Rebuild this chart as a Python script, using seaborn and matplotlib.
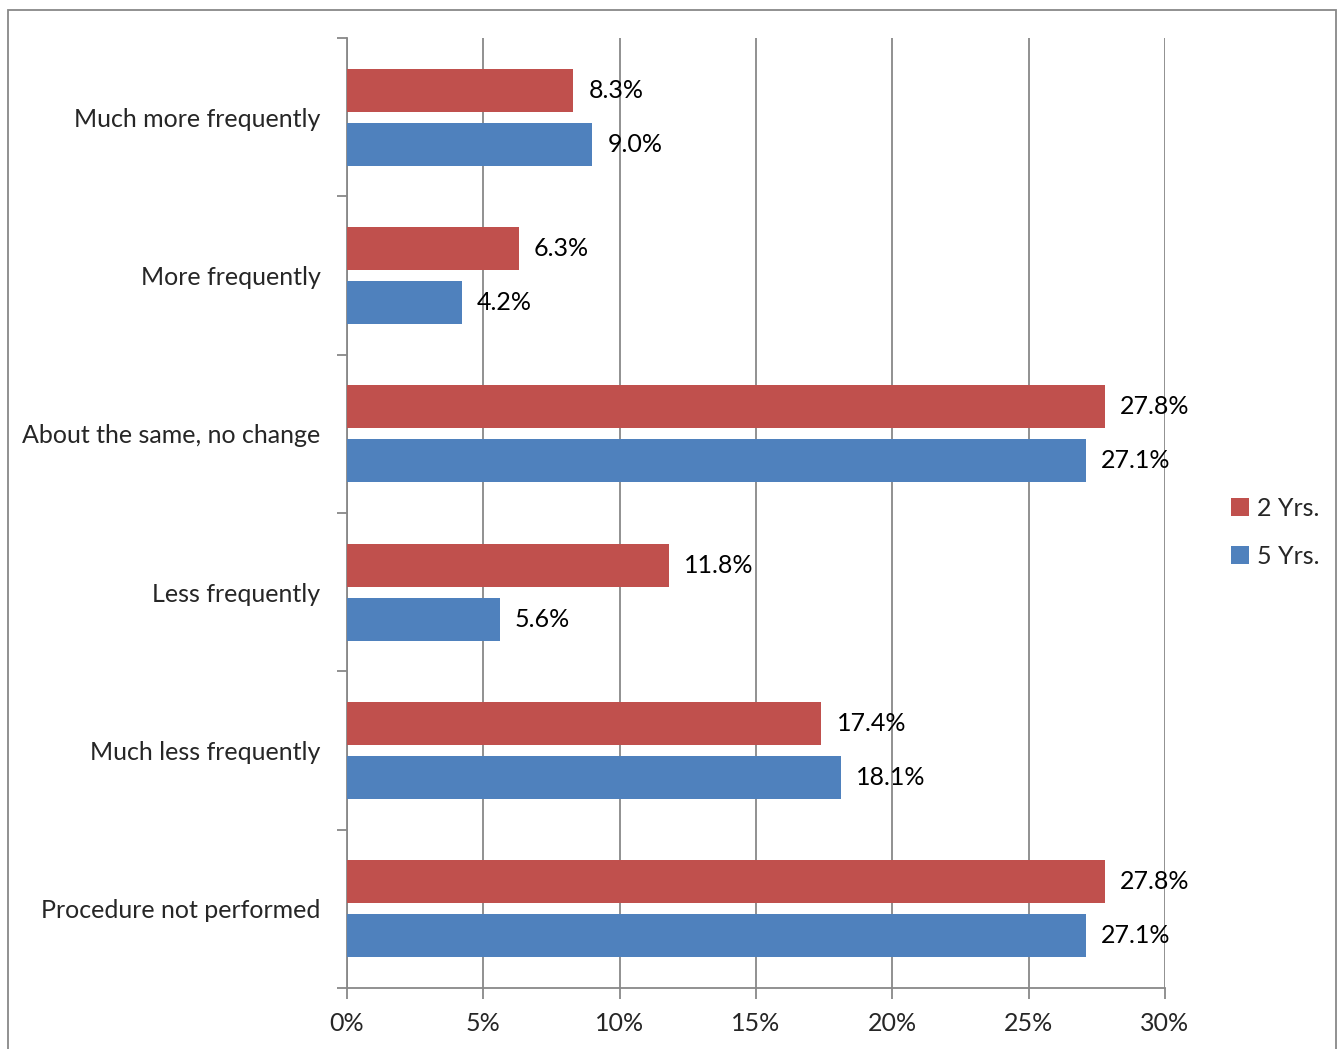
import matplotlib
matplotlib.use("Agg")
import matplotlib.pyplot as plt
import seaborn as sns
import pandas as pd
from matplotlib.patches import Rectangle, Patch
from matplotlib.ticker import FuncFormatter, FixedLocator

categories = ["Much more frequently", "More frequently", "About the same, no change",
              "Less frequently", "Much less frequently", "Procedure not performed"]
series_names = ["2 Yrs.", "5 Yrs."]
values_2yrs = [8.3, 6.3, 27.8, 11.8, 17.4, 27.8]
values_5yrs = [9.0, 4.2, 27.1, 5.6, 18.1, 27.1]
colors = ["#C0504D", "#4F81BD"]

df = pd.DataFrame({
    "category": categories * 2,
    "series": [series_names[0]] * len(categories) + [series_names[1]] * len(categories),
    "value": values_2yrs + values_5yrs,
})

sns.set_style("white")
plt.rcParams["font.family"] = ["Lato", "DejaVu Sans"]
FS = 18

fig = plt.figure(figsize=(13.38, 10.49), dpi=100)
ax = fig.add_axes([347/1338, 1 - 988/1049, (1165-347)/1338, (988-38)/1049])

sns.barplot(data=df, y="category", x="value", hue="series", order=categories,
            hue_order=series_names, palette=colors, orient="h", width=0.68, gap=0.2,
            saturation=1, legend=False, ax=ax, zorder=3, linewidth=0, edgecolor="none")

ax.set_xlim(0, 30)
ax.set_ylim(len(categories) - 0.5, -0.5)
ax.set_xticks(range(0, 31, 5))
ax.xaxis.set_major_formatter(FuncFormatter(lambda v, p: f"{int(v)}%"))
ax.grid(axis="x", color="#888888", linewidth=1.3, zorder=0)
ax.set_axisbelow(True)
ax.set_xlabel("")
ax.set_ylabel("")

ax.set_yticks(range(len(categories)))
ax.set_yticklabels(categories, fontsize=FS)
ax.yaxis.set_minor_locator(FixedLocator([i - 0.5 for i in range(len(categories) + 1)]))
ax.tick_params(axis="y", which="major", length=0, pad=19)
ax.tick_params(axis="y", which="minor", length=7, width=1.3, color="#888888", left=True)
ax.tick_params(axis="x", which="major", length=8, width=1.3, color="#888888",
               labelsize=FS, pad=9, bottom=True)

for s in ["top", "right"]:
    ax.spines[s].set_visible(False)
for s in ["left", "bottom"]:
    ax.spines[s].set_color("#888888")
    ax.spines[s].set_linewidth(1.3)

for cont, vals in zip(ax.containers, [values_2yrs, values_5yrs]):
    ax.bar_label(cont, labels=[f"{v:.1f}%" for v in vals], padding=11, fontsize=FS,
                 color="#000000")

handles = [Patch(facecolor=c, edgecolor="none") for c in colors]
fig.legend(handles, series_names, loc="center left", bbox_to_anchor=(1208/1338, 1 - 532/1049),
           frameon=False, fontsize=FS, handlelength=0.75, handleheight=0.75,
           handletextpad=0.3, labelspacing=1.0)

fig.patches.append(Rectangle((8/1338, -0.01), (1336-8)/1338, 1 - 10/1049 + 0.01,
                             transform=fig.transFigure, fill=False,
                             edgecolor="#888888", linewidth=1.3))

fig.savefig("out.png", dpi=100)
